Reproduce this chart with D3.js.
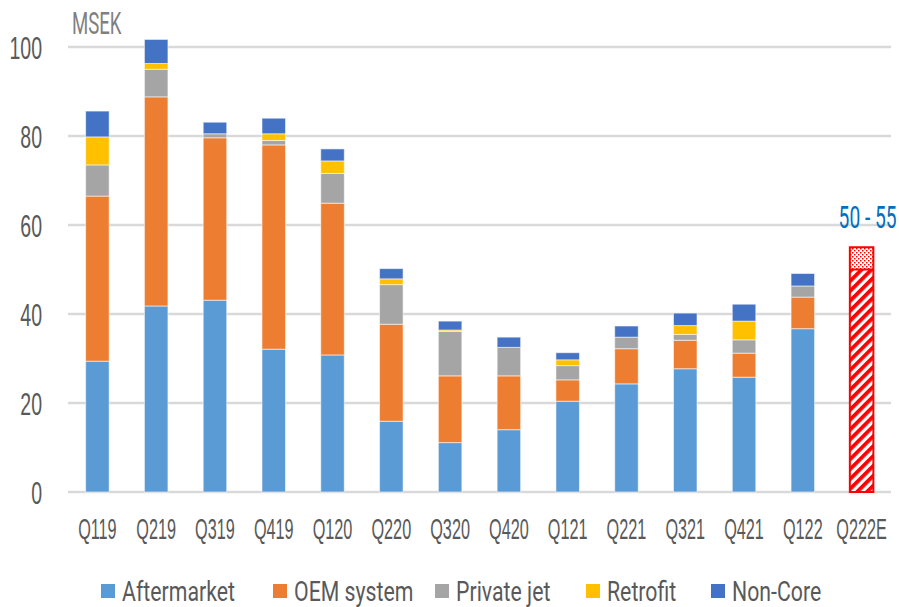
<!DOCTYPE html>
<html>
<head>
<meta charset="utf-8">
<script src="https://cdn.jsdelivr.net/npm/d3@7"></script>
<style>
  body { margin: 0; background: #fff; }
  svg { display: block; font-family: Roboto, "Noto Sans", sans-serif; }
</style>
</head>
<body>
<svg id="chart" width="899" height="607"></svg>
<script>
const categories = ["Q119", "Q219", "Q319", "Q419", "Q120", "Q220", "Q320", "Q420", "Q121", "Q221", "Q321", "Q421", "Q122", "Q222E"];
const seriesNames = ["Aftermarket", "OEM system", "Private jet", "Retrofit", "Non-Core"];
const aftermarket = [29.4, 41.8, 43.1, 32.1, 30.8, 15.9, 11.1, 14.0, 20.4, 24.3, 27.7, 25.8, 36.7, 0];
const oemSystem   = [37.1, 47.0, 36.5, 45.9, 34.1, 21.8, 15.0, 12.1, 4.8, 7.9, 6.4, 5.4, 7.1, 0];
const privateJet  = [7.0, 6.2, 0.9, 1.0, 6.7, 8.9, 10.0, 6.4, 3.2, 2.6, 1.3, 3.0, 2.5, 0];
const retrofit    = [6.3, 1.3, 0, 1.5, 2.8, 1.3, 0.3, 0, 1.3, 0, 2.0, 4.2, 0, 0];
const nonCore     = [5.8, 5.4, 2.6, 3.5, 2.7, 2.3, 2.0, 2.3, 1.6, 2.5, 2.8, 3.8, 2.8, 0];
const estimateCategory = "Q222E";
const estimateRange = [50, 55];
const estimateLabel = "50 - 55";
const yTicks = [0, 20, 40, 60, 80, 100];

const colors = ["#5B9BD5", "#ED7D31", "#A5A5A5", "#FFC000", "#4472C4"];

const svg = d3.select("#chart");

const defs = svg.append("defs");
const stripes = defs.append("pattern")
  .attr("id", "stripes")
  .attr("patternUnits", "userSpaceOnUse")
  .attr("width", 7).attr("height", 7)
  .attr("patternTransform", "rotate(45)");
stripes.append("rect").attr("width", 7).attr("height", 7).attr("fill", "#fff");
stripes.append("rect").attr("width", 3.8).attr("height", 7).attr("fill", "#FF0000");

const dots = defs.append("pattern")
  .attr("id", "dots")
  .attr("patternUnits", "userSpaceOnUse")
  .attr("width", 4).attr("height", 4);
dots.append("rect").attr("width", 4).attr("height", 4).attr("fill", "#fff");
dots.append("rect").attr("x", 0).attr("y", 0).attr("width", 1.5).attr("height", 1.5).attr("fill", "#FF0000");
dots.append("rect").attr("x", 2).attr("y", 2).attr("width", 1.5).attr("height", 1.5).attr("fill", "#FF0000");

const x = d3.scaleBand()
  .domain(categories)
  .range([68, 891])
  .paddingInner(0.6)
  .paddingOuter(0.3);

const y = d3.scaleLinear()
  .domain([0, 100])
  .range([492, 47]);

// gridlines
svg.append("g")
  .selectAll("line")
  .data(yTicks)
  .enter()
  .append("line")
  .attr("x1", 68)
  .attr("x2", 891)
  .attr("y1", d => y(d))
  .attr("y2", d => y(d))
  .attr("stroke", "#D9D9D9")
  .attr("stroke-width", 2.5);

// y axis labels
const yAxis = svg.append("g")
  .attr("transform", "translate(42,0)")
  .call(d3.axisLeft(y).tickValues(yTicks).tickSize(0).tickPadding(0));
yAxis.select(".domain").remove();
yAxis.selectAll("text")
  .attr("x", 0)
  .attr("fill", "#595959")
  .style("font-size", "31px")
  .attr("dy", "0.36em")
  .attr("transform", "scale(0.63,1)");

svg.append("text")
  .attr("transform", "translate(72,34) scale(0.6,1)")
  .attr("fill", "#7F7F7F")
  .style("font-size", "31px")
  .text("MSEK");

// stacked bars
const rows = categories.map((c, i) => ({
  key: c,
  "Aftermarket": aftermarket[i],
  "OEM system": oemSystem[i],
  "Private jet": privateJet[i],
  "Retrofit": retrofit[i],
  "Non-Core": nonCore[i]
}));

const stacked = d3.stack().keys(seriesNames)(rows);

const layers = svg.append("g")
  .selectAll("g.layer")
  .data(stacked)
  .enter()
  .append("g")
  .attr("class", "layer")
  .attr("fill", (d, i) => colors[i]);

layers.selectAll("rect")
  .data(d => d.filter(p => p[1] - p[0] > 0))
  .enter()
  .append("rect")
  .attr("x", d => x(d.data.key))
  .attr("y", d => y(d[1]))
  .attr("width", x.bandwidth())
  .attr("height", d => y(d[0]) - y(d[1]))
  .attr("stroke", "#ffffff")
  .attr("stroke-opacity", 0.55)
  .attr("stroke-width", 1);

// estimate bar
const ex = x(estimateCategory);
svg.append("rect")
  .attr("x", ex)
  .attr("y", y(estimateRange[0]))
  .attr("width", x.bandwidth())
  .attr("height", y(0) - y(estimateRange[0]))
  .attr("fill", "url(#stripes)");
svg.append("rect")
  .attr("x", ex)
  .attr("y", y(estimateRange[1]))
  .attr("width", x.bandwidth())
  .attr("height", y(estimateRange[0]) - y(estimateRange[1]))
  .attr("fill", "url(#dots)");
svg.append("rect")
  .attr("x", ex)
  .attr("y", y(estimateRange[1]))
  .attr("width", x.bandwidth())
  .attr("height", y(0) - y(estimateRange[1]))
  .attr("fill", "none")
  .attr("stroke", "#FF0000")
  .attr("stroke-width", 2);
svg.append("line")
  .attr("x1", ex).attr("x2", ex + x.bandwidth())
  .attr("y1", y(estimateRange[0])).attr("y2", y(estimateRange[0]))
  .attr("stroke", "#FF0000").attr("stroke-width", 2);

svg.append("text")
  .attr("transform", `translate(${ex + x.bandwidth() / 2 + 6},228) scale(0.62,1)`)
  .attr("text-anchor", "middle")
  .attr("fill", "#0070C0")
  .style("font-size", "31px")
  .text(estimateLabel);

// x labels
const xAxis = svg.append("g")
  .attr("transform", "translate(0,539)")
  .call(d3.axisBottom(x).tickSize(0).tickPadding(0));
xAxis.select(".domain").remove();
xAxis.selectAll("text")
  .attr("y", 0)
  .attr("dy", 0)
  .attr("fill", "#595959")
  .style("font-size", "29px")
  .attr("transform", "scale(0.56,1)");

// legend
const legendX = [101, 273, 435, 586, 711];
const legend = svg.append("g")
  .selectAll("g")
  .data(seriesNames)
  .enter()
  .append("g")
  .attr("transform", (d, i) => `translate(${legendX[i]},0)`);
legend.append("rect")
  .attr("x", 0)
  .attr("y", 584)
  .attr("width", 14)
  .attr("height", 14)
  .attr("fill", (d, i) => colors[i]);
legend.append("text")
  .attr("transform", "translate(21,601) scale(0.76,1)")
  .attr("fill", "#595959")
  .style("font-size", "28px")
  .text(d => d);
</script>
</body>
</html>
